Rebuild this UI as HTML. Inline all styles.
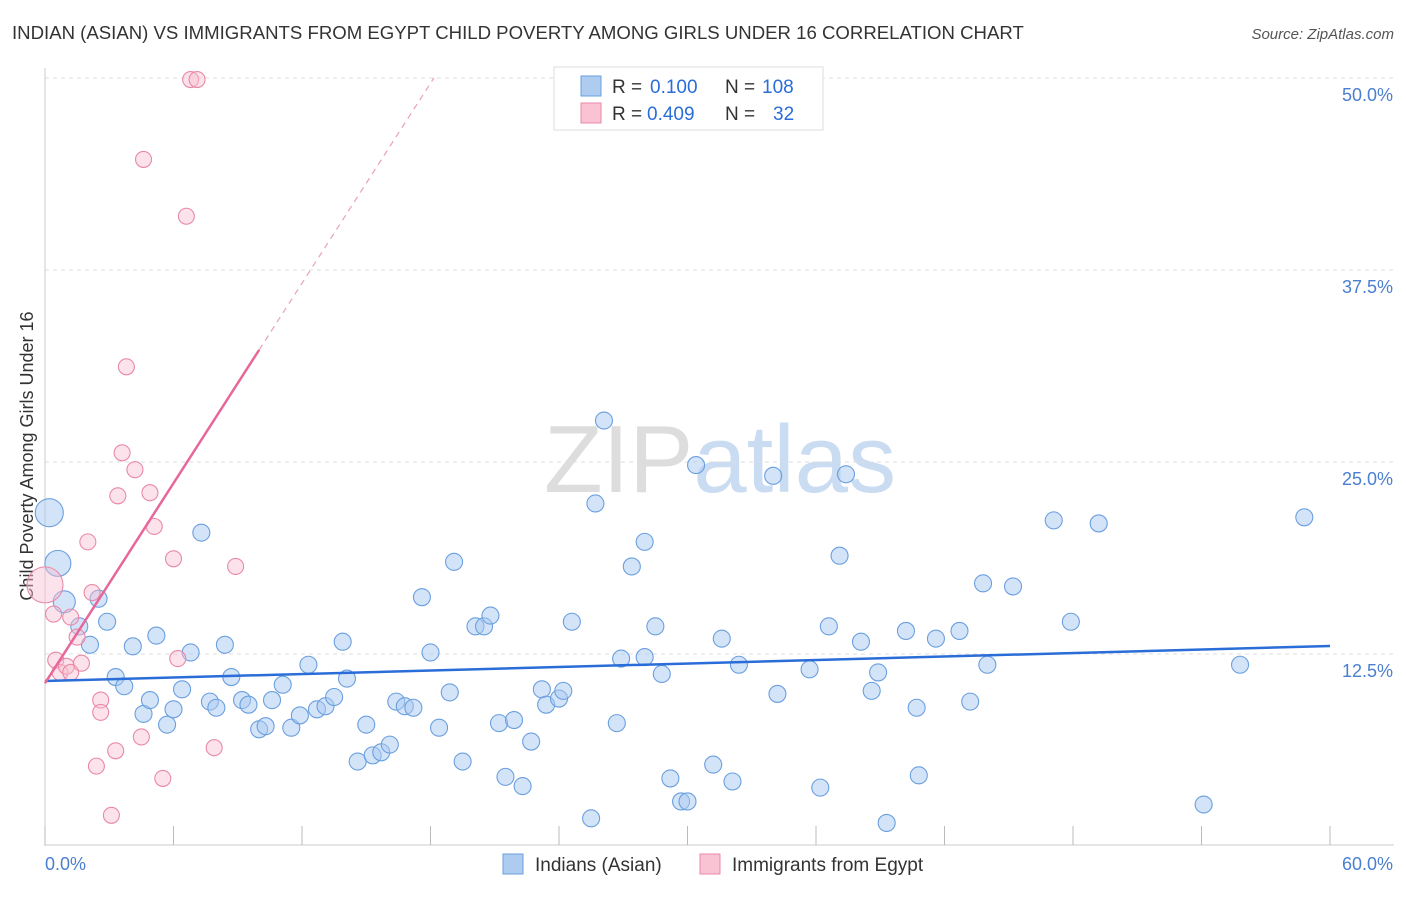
<!DOCTYPE html>
<html><head><meta charset="utf-8"><style>
body{margin:0;background:#fff;font-family:"Liberation Sans",sans-serif;}
svg text{font-family:"Liberation Sans",sans-serif;}
</style></head><body>
<svg id="c" width="1406" height="892" xmlns="http://www.w3.org/2000/svg">
<text x="12" y="39" font-size="18.6" fill="#333">INDIAN (ASIAN) VS IMMIGRANTS FROM EGYPT CHILD POVERTY AMONG GIRLS UNDER 16 CORRELATION CHART</text>
<text x="1394" y="39" font-size="15" fill="#555" font-style="italic" text-anchor="end">Source: ZipAtlas.com</text>
<text x="720" y="492" font-size="96" fill="#ddd" text-anchor="middle" font-family="Liberation Serif">ZIP<tspan fill="#c9dcf2" font-family="Liberation Sans">atlas</tspan></text>
<text transform="translate(33,456) rotate(-90)" font-size="18" fill="#333" text-anchor="middle">Child Poverty Among Girls Under 16</text>
<g id="grid"></g><g id="pts"></g><g id="lines"></g>
<g>
<rect x="554" y="67" width="269" height="63" fill="#fff" stroke="#ddd"/>
<rect x="581" y="76" width="20" height="20" fill="#aecbf0" stroke="#6a9fdf"/>
<rect x="581" y="103" width="20" height="20" fill="#f9c3d4" stroke="#e889a8"/>
<text x="612" y="93" font-size="19" fill="#333">R =</text>
<text x="650" y="93" font-size="19" fill="#2a6dd8">0.100</text>
<text x="725" y="93" font-size="19" fill="#333">N =</text>
<text x="762" y="93" font-size="19" fill="#2a6dd8">108</text>
<text x="612" y="120" font-size="19" fill="#333">R =</text>
<text x="647" y="120" font-size="19" fill="#2a6dd8">0.409</text>
<text x="725" y="120" font-size="19" fill="#333">N =</text>
<text x="773" y="120" font-size="19" fill="#2a6dd8">32</text>
</g>
<g>
<rect x="503" y="854" width="20" height="20" fill="#aecbf0" stroke="#6a9fdf"/>
<text x="535" y="871" font-size="19" fill="#333">Indians (Asian)</text>
<rect x="700" y="854" width="20" height="20" fill="#f9c3d4" stroke="#e889a8"/>
<text x="732" y="871" font-size="19" fill="#333">Immigrants from Egypt</text>
</g>
</svg>
<script>
const blueX=[0.2,0.6,0.9,1.6,2.5,2.1,2.9,3.3,3.7,4.1,4.6,4.9,5.2,5.7,6.0,6.4,6.8,7.3,7.7,8.0,8.4,8.7,9.2,9.5,10.0,10.3,10.6,11.1,11.5,11.9,12.3,12.7,13.1,13.5,13.9,14.1,14.6,15.0,15.3,15.7,16.1,16.4,16.8,17.2,17.6,18.0,18.4,18.9,19.1,19.5,20.1,20.5,20.8,21.2,21.5,21.9,22.3,22.7,23.2,23.4,24.0,24.2,24.6,25.5,25.7,26.1,26.7,26.9,27.4,28.0,28.0,28.5,28.8,29.2,29.7,30.0,30.4,31.2,31.6,32.1,32.4,34.0,34.2,35.7,36.2,36.6,37.1,37.4,38.1,38.6,38.9,39.3,40.2,40.7,40.8,41.6,42.7,43.2,43.8,44.0,45.2,47.1,47.9,49.2,54.1,55.8,58.8];
const blueY=[21.7,18.4,15.9,14.3,16.1,13.1,14.6,11.0,10.4,13.0,8.6,9.5,13.7,7.9,8.9,10.2,12.6,20.4,9.4,9.0,13.1,11.0,9.5,9.2,7.6,7.8,9.5,10.5,7.7,8.5,11.8,8.9,9.1,9.7,13.3,10.9,5.5,7.9,5.9,6.1,6.6,9.4,9.1,9.0,16.2,12.6,7.7,10.0,18.5,5.5,14.3,14.3,15.0,8.0,4.5,8.2,3.9,6.8,10.2,9.2,9.6,10.1,14.6,1.8,22.3,27.7,8.0,12.2,18.2,12.3,19.8,14.3,11.2,4.4,2.9,2.9,24.8,5.3,13.5,4.2,11.8,24.1,9.9,11.5,3.8,14.3,18.9,24.2,13.3,10.1,11.3,1.5,14.0,9.0,4.6,13.5,14.0,9.4,17.1,11.8,16.9,21.2,14.6,21.0,2.7,11.8,21.4];
const pinkX=[0.0,0.4,0.5,0.7,1.0,1.2,1.2,1.5,1.7,2.0,2.2,2.4,2.6,2.6,3.1,3.3,3.4,3.6,3.8,4.2,4.5,4.6,4.9,5.1,5.5,6.0,6.2,6.6,6.8,7.1,7.9,8.9];
const pinkY=[17.0,15.1,12.1,11.3,11.7,11.3,14.9,13.6,11.9,19.8,16.5,5.2,9.5,8.7,2.0,6.2,22.8,25.6,31.2,24.5,7.1,44.7,23.0,20.8,4.4,18.7,12.2,41.0,49.9,49.9,6.4,18.2];
const blueTrend=[10.74,13.02];   // y at x=0, y at x=60
const pinkTrend=[10.6,2.17];     // intercept, slope
const xTicks=["0.0%","60.0%"];
const yTicks=[12.5,25,37.5,50];
const yTickLabels=["12.5%","25.0%","37.5%","50.0%"];
const NS="http://www.w3.org/2000/svg";
const X=v=>45+v/60*1285, Y=v=>846-v/12.5*192;
function mk(t,a,p){const e=document.createElementNS(NS,t);for(const k in a)e.setAttribute(k,a[k]);p.appendChild(e);return e;}
const g=document.getElementById('grid');
yTicks.forEach((t,i)=>{
 const l=mk('line',{x1:45,x2:1394,y1:Y(t),y2:Y(t),stroke:'#ddd','stroke-dasharray':'4,4'},g);
 
 
 const tx=mk('text',{x:1393,y:Y(t)+23,'font-size':18,fill:'#4a7fd0','text-anchor':'end'},g);
 tx.textContent=yTickLabels[i];
 
 
});
mk('line',{x1:45,x2:45,y1:68,y2:846,stroke:'#ccc'},g);
mk('line',{x1:45,x2:1394,y1:845,y2:845,stroke:'#ccc'},g);
for(let i=0;i<=10;i++){mk('line',{x1:X(i*6),x2:X(i*6),y1:826,y2:845,stroke:'#bbb'},g);}
const tl0=mk('text',{x:45,y:870,'font-size':18,fill:'#4a7fd0'},g);tl0.textContent=xTicks[0];


const tl1=mk('text',{x:1393,y:870,'font-size':18,fill:'#4a7fd0','text-anchor':'end'},g);tl1.textContent=xTicks[1];


const p=document.getElementById('pts');
const bigR={0:14,1:13,2:11};
blueX.forEach((x,i)=>{
 const c=mk('circle',{cx:X(x),cy:Y(blueY[i]),r:bigR[i]||8.5,fill:'rgba(170,202,242,0.5)',stroke:'#6a9fdf','stroke-width':1.1},p);
 
 
});
pinkX.forEach((x,i)=>{
 const c=mk('circle',{cx:X(x),cy:Y(pinkY[i]),r:i==0?18:8,fill:'rgba(248,190,208,0.45)',stroke:'#e889a8','stroke-width':1.1},p);
 
 
});
const L=document.getElementById('lines');
const bl=mk('line',{x1:X(0),y1:Y(blueTrend[0]),x2:X(60),y2:Y(blueTrend[1]),stroke:'#2a6dd8','stroke-width':2.5},L);


const xe=Math.max(...pinkX)+1.1, xd=(50-pinkTrend[0])/pinkTrend[1];
const pl=mk('line',{x1:X(0),y1:Y(pinkTrend[0]),x2:X(xe),y2:Y(pinkTrend[0]+pinkTrend[1]*xe),stroke:'#e8679a','stroke-width':2.5},L);


const pd=mk('line',{x1:X(xe),y1:Y(pinkTrend[0]+pinkTrend[1]*xe),x2:X(xd),y2:Y(50),stroke:'#eaa0bb','stroke-width':1.2,'stroke-dasharray':'6,5'},L);


</script>
</body></html>
